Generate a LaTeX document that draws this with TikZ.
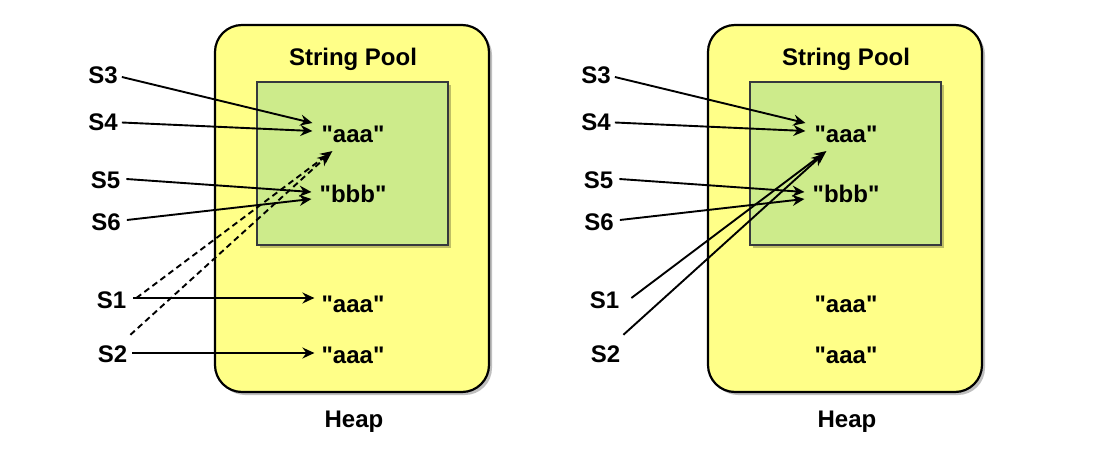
\documentclass[tikz,border=0pt]{standalone}
\usepackage{fontspec}
\setmainfont{Liberation Sans}
\usetikzlibrary{arrows.meta,calc,shadows}
\definecolor{heapfill}{HTML}{FFFF88}
\definecolor{poolfill}{HTML}{CDEB8B}
\definecolor{poolline}{HTML}{36393D}
\newcommand{\qq}[1]{\textquotedbl#1\textquotedbl}
\begin{document}
\begin{tikzpicture}[x=1pt,y=-1pt,
  lbl/.style={inner sep=0pt,font=\fontsize{24}{28}\selectfont\bfseries},
  heapbox/.style={draw=black,line width=2.2pt,fill=heapfill,rounded corners=27pt,
    drop shadow={shadow xshift=3pt,shadow yshift=-3pt,fill=black,opacity=0.25}},
  poolbox/.style={draw=poolline,line width=2.2pt,fill=poolfill,
    drop shadow={shadow xshift=3pt,shadow yshift=-3pt,fill=black,opacity=0.25}},
  arr/.style={line width=1.9pt,-{Stealth[length=12pt,width=11pt,inset=4pt]}},
  dasharr/.style={arr,dash pattern=on 6pt off 4pt}]
\useasboundingbox (0,0) rectangle (1104,455);

% ---------- left ----------
\node[heapbox,minimum width=274pt,minimum height=367pt,inner sep=0pt] (lheap) at (352,208.5) {};
\node[poolbox,minimum width=191pt,minimum height=163pt,inner sep=0pt] (lpool) at (352.5,163.5) {};
\node[lbl] (ltitle) at (353,59) {String Pool};
\node[lbl] (lpa) at (353,134.5) {\qq{aaa}};
\node[lbl] (lpb) at (353,194) {\qq{bbb}};
\node[lbl] (lh1) at (353,304) {\qq{aaa}};
\node[lbl] (lh2) at (353,355) {\qq{aaa}};
\node[lbl] (lheaplbl) at (354,422) {Heap};
\node[lbl] (ls3) at (103,75.5) {S3};
\node[lbl] (ls4) at (103,122.5) {S4};
\node[lbl] (ls5) at (105.5,180.5) {S5};
\node[lbl] (ls6) at (106,222.5) {S6};
\node[lbl] (ls1) at (111.5,300.5) {S1};
\node[lbl] (ls2) at (112.5,354.5) {S2};

\draw[arr] ($(ls3.east)+(4,1.5)$) -- ($(lpa.west)+(-9,-11.5)$);
\draw[arr] ($(ls4.east)+(4,0)$) -- ($(lpa.west)+(-9,-3.5)$);
\draw[arr] ($(ls5.east)+(6,-1.5)$) -- ($(lpb.west)+(-8,-2)$);
\draw[arr] ($(ls6.east)+(6,-2.5)$) -- ($(lpb.west)+(-8,5)$);
\draw[arr] ($(ls1.east)+(7,-2.5)$) -- ($(lh1.west)+(-7,-6)$);
\draw[arr] ($(ls2.east)+(5,-1.5)$) -- ($(lh2.west)+(-7,-2)$);
\draw[dasharr] ($(ls1.east)+(10,-2.5)$) -- ($(lpa.south west)+(11,8)$);
\draw[dasharr] ($(ls2.north east)+(3,-11)$) -- ($(lpa.south west)+(8,11)$);

% ---------- right ----------
\node[heapbox,minimum width=274pt,minimum height=367pt,inner sep=0pt] (rheap) at (845,208.5) {};
\node[poolbox,minimum width=191pt,minimum height=163pt,inner sep=0pt] (rpool) at (845.5,163.5) {};
\node[lbl] (rtitle) at (846,59) {String Pool};
\node[lbl] (rpa) at (846,134.5) {\qq{aaa}};
\node[lbl] (rpb) at (846,194) {\qq{bbb}};
\node[lbl] (rh1) at (846,304) {\qq{aaa}};
\node[lbl] (rh2) at (846,355) {\qq{aaa}};
\node[lbl] (rheaplbl) at (847,422) {Heap};
\node[lbl] (rs3) at (596,75.5) {S3};
\node[lbl] (rs4) at (596,122.5) {S4};
\node[lbl] (rs5) at (598.5,180.5) {S5};
\node[lbl] (rs6) at (599,222.5) {S6};
\node[lbl] (rs1) at (604.5,300.5) {S1};
\node[lbl] (rs2) at (605.5,354.5) {S2};

\draw[arr] ($(rs3.east)+(4,1.5)$) -- ($(rpa.west)+(-9,-11.5)$);
\draw[arr] ($(rs4.east)+(4,0)$) -- ($(rpa.west)+(-9,-3.5)$);
\draw[arr] ($(rs5.east)+(6,-1.5)$) -- ($(rpb.west)+(-8,-2)$);
\draw[arr] ($(rs6.east)+(6,-2.5)$) -- ($(rpb.west)+(-8,5)$);
\draw[arr] ($(rs1.east)+(12,-2.5)$) -- ($(rpa.south west)+(12,8)$);
\draw[arr] ($(rs2.north east)+(3,-11)$) -- ($(rpa.south west)+(9,11)$);
\end{tikzpicture}
\end{document}
